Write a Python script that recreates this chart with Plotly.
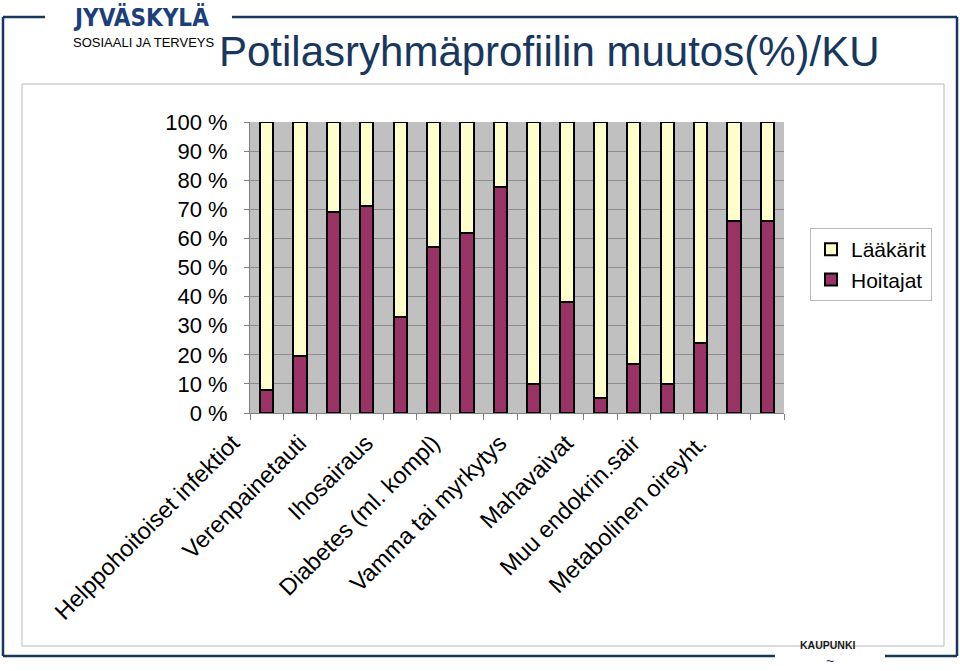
import plotly.graph_objects as go

# ---- data ----
categories = ["Helppohoitoiset infektiot", "Verenpainetauti", "Ihosairaus",
              "Diabetes (ml. kompl)", "Vamma tai myrkytys", "Mahavaivat",
              "Muu endokrin.sair", "Metabolinen oireyht."]
# two bars per category (before / after), share of Hoitajat in %
hoitajat_before = [8, 69, 33, 62, 10, 5, 10, 66]
hoitajat_after = [19.5, 71, 57, 77.5, 38, 17, 24, 66]
y_ticks = [0, 10, 20, 30, 40, 50, 60, 70, 80, 90, 100]
y_ticktext = [f"{v} %" for v in y_ticks]

hoitajat = []
for b, a in zip(hoitajat_before, hoitajat_after):
    hoitajat += [b, a]
laakarit = [100 - v for v in hoitajat]
xpos = list(range(len(hoitajat)))
label_pos = xpos[::2]

W, H = 960, 671
L, R, T, B = 250, 784, 122, 413

def px(x):
    return (x - L) / (R - L)

def py(y):
    return (B - y) / (B - T)

NAVY = "#17375E"

fig = go.Figure()
fig.add_bar(x=xpos, y=hoitajat, name="Hoitajat", width=0.4,
            marker=dict(color="#993366", line=dict(color="black", width=2)))
fig.add_bar(x=xpos, y=laakarit, name="Lääkärit", width=0.4,
            marker=dict(color="#FFFFCC", line=dict(color="black", width=2)))

fig.update_layout(
    width=W, height=H, barmode="stack",
    margin=dict(l=L, r=W - R, t=T, b=H - B, pad=0),
    paper_bgcolor="white", plot_bgcolor="#C0C0C0",
    font=dict(family="Liberation Sans, Arial, sans-serif", color="black"),
    showlegend=True,
    legend=dict(x=px(810), y=py(228), xanchor="left", yanchor="top",
                traceorder="reversed", bgcolor="white",
                bordercolor="#B8B8B8", borderwidth=1,
                font=dict(size=21), itemwidth=30, tracegroupgap=0),
)
fig.update_xaxes(range=[-0.5, len(xpos) - 0.5], tickmode="array",
                 tickvals=label_pos, ticktext=categories, tickangle=-45,
                 tickfont=dict(size=23.5), ticks="", showgrid=False,
                 zeroline=False, showline=True, linecolor="#808080",
                 linewidth=1, ticklabelshift=-34, ticklabelstandoff=6,
                 minor=dict(tickmode="array",
                            tickvals=[v - 0.5 for v in xpos + [len(xpos)]],
                            ticks="outside", ticklen=6, tickcolor="#808080",
                            showgrid=False))
fig.update_yaxes(range=[0, 100], tickmode="array", tickvals=y_ticks,
                 ticktext=y_ticktext, tickfont=dict(size=22),
                 showgrid=True, gridcolor="#8C8C8C", gridwidth=1,
                 zeroline=False, showline=True, linecolor="#808080",
                 ticks="outside", ticklen=5, tickcolor="#808080",
                 ticklabelstandoff=12)

# decorative frame
frame = [(3, 17, 45, 17), (3, 17, 3, 656), (3, 656, 775, 656),
         (885, 656, 957, 656), (957, 17, 957, 656), (232, 17, 957, 17)]
shapes = []
for x0, y0, x1, y1 in frame:
    shapes.append(dict(type="line", xref="paper", yref="paper",
                       x0=px(x0), y0=py(y0), x1=px(x1), y1=py(y1),
                       line=dict(color=NAVY, width=2.5)))
shapes.append(dict(type="rect", xref="paper", yref="paper",
                   x0=px(22), y0=py(84), x1=px(944), y1=py(646),
                   line=dict(color="#B8B8B8", width=1), layer="below"))
fig.update_layout(shapes=shapes)

ann = [
    dict(text="<b>JYVÄSKYLÄ</b>", x=px(71), y=py(18), xanchor="left",
         yanchor="middle", font=dict(size=24, color="#1C3F7C",
                                     family="DejaVu Sans Condensed, Liberation Sans")),
    dict(text="SOSIAALI JA TERVEYS", x=px(71), y=py(42), xanchor="left",
         yanchor="middle", font=dict(size=13, color="black")),
    dict(text="Potilasryhmäprofiilin muutos(%)/KU", x=px(549), y=py(51),
         xanchor="center", yanchor="middle",
         font=dict(size=42, color=NAVY)),
    dict(text="<b>KAUPUNKI</b>", x=px(828), y=py(645), xanchor="center",
         yanchor="middle", font=dict(size=10.5, color="#1a1a1a")),
    dict(text="~", x=px(830), y=py(671), xanchor="center",
         yanchor="bottom", font=dict(size=14, color=NAVY)),
]
for a in ann:
    a.update(xref="paper", yref="paper", showarrow=False)
fig.update_layout(annotations=ann)

fig.write_html("out.html")
